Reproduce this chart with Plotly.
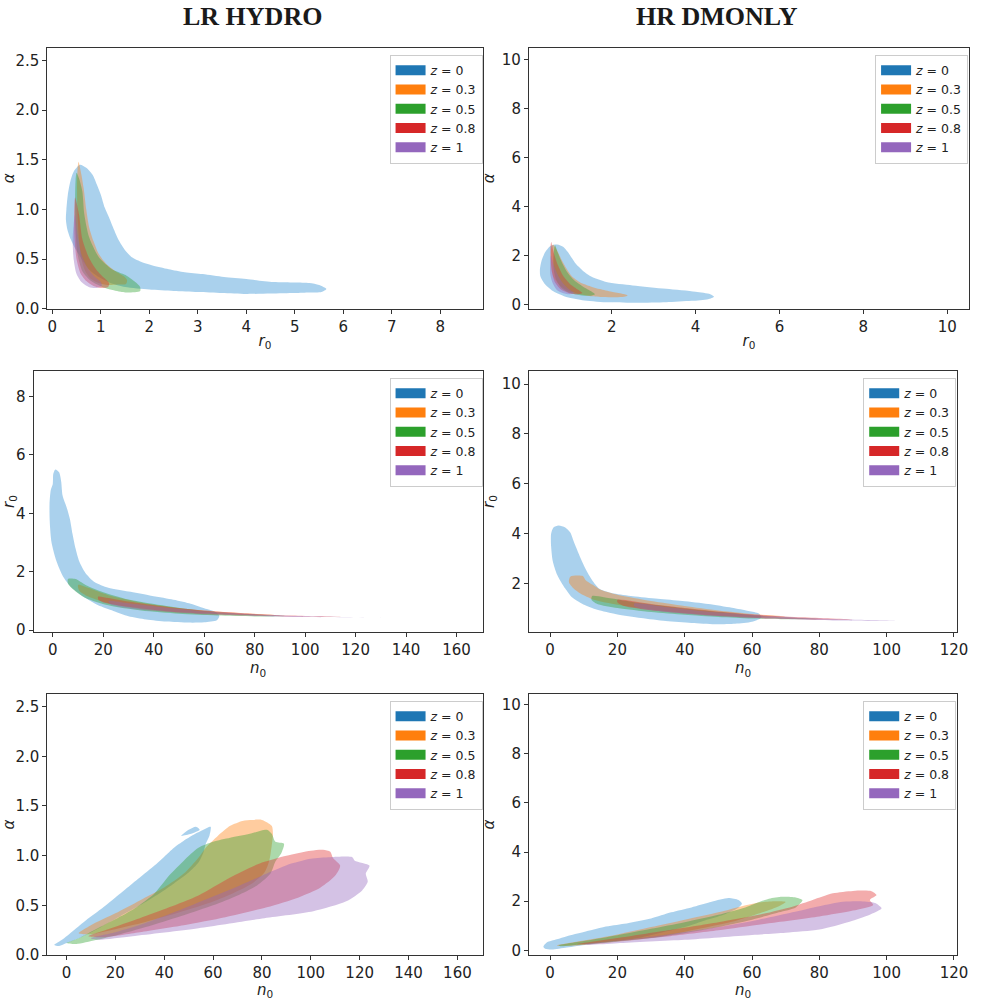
import plotly.graph_objects as go

# ---------------------------------------------------------------------------
# Redshift labels and colours
# ---------------------------------------------------------------------------
REDSHIFT_LABELS = ["<i>z</i> = 0", "<i>z</i> = 0.3", "<i>z</i> = 0.5",
                   "<i>z</i> = 0.8", "<i>z</i> = 1"]
COLORS = ["#1f77b4", "#ff7f0e", "#2ca02c", "#d62728", "#9467bd"]
# base colours of the translucent regions (slightly brighter than the legend swatches)
FILL_BASES = ["#2a8cd2", "#ff7f0e", "#2ca02c", "#e03030", "#9467bd"]
FILL_ALPHA = 0.4

COLUMN_TITLES = ["LR HYDRO", "HR DMONLY"]

# ---------------------------------------------------------------------------
# Credible-region outlines, one list of (x, y) vertices per redshift.
# ---------------------------------------------------------------------------
# LR HYDRO : alpha (y) against r0 (x)
lr_r0_alpha_z0 = [(0.57, 1.45), (0.70, 1.42), (0.83, 1.35), (0.92, 1.25), (1.0, 1.15),
                  (1.08, 1.02), (1.17, 0.92), (1.27, 0.80), (1.37, 0.69), (1.50, 0.59),
                  (1.64, 0.52), (1.85, 0.47), (2.05, 0.44), (2.4, 0.40), (2.73, 0.37),
                  (3.1, 0.35), (3.54, 0.32), (4.0, 0.30), (4.56, 0.27), (5.0, 0.265),
                  (5.3, 0.26), (5.5, 0.24), (5.65, 0.20), (5.55, 0.17), (5.3, 0.165),
                  (5.0, 0.16), (4.5, 0.155), (4.0, 0.15), (3.5, 0.16), (3.0, 0.17),
                  (2.5, 0.18), (2.0, 0.195), (1.5, 0.22), (1.2, 0.26), (0.96, 0.32),
                  (0.75, 0.40), (0.62, 0.49), (0.48, 0.60), (0.38, 0.70), (0.31, 0.80),
                  (0.28, 0.90), (0.29, 1.0), (0.32, 1.15), (0.37, 1.28), (0.44, 1.38),
                  (0.57, 1.45)]
lr_r0_alpha_z03 = [(0.54, 1.48), (0.60, 1.35), (0.65, 1.2), (0.70, 1.0), (0.76, 0.82),
                   (0.85, 0.68), (0.95, 0.56), (1.1, 0.46), (1.3, 0.38), (1.47, 0.33),
                   (1.54, 0.29), (1.52, 0.25), (1.35, 0.245), (1.15, 0.24), (0.95, 0.26),
                   (0.80, 0.30), (0.68, 0.38), (0.60, 0.50), (0.55, 0.70), (0.52, 0.95),
                   (0.51, 1.2), (0.52, 1.4), (0.54, 1.48)]
lr_r0_alpha_z05 = [(0.50, 1.37), (0.56, 1.30), (0.62, 1.18), (0.66, 0.95), (0.76, 0.72),
                   (0.96, 0.52), (1.23, 0.40), (1.51, 0.34), (1.71, 0.27), (1.81, 0.22),
                   (1.81, 0.18), (1.51, 0.165), (1.24, 0.19), (1.03, 0.22), (0.80, 0.28),
                   (0.62, 0.38), (0.52, 0.55), (0.48, 0.8), (0.47, 1.1), (0.48, 1.3),
                   (0.50, 1.37)]
lr_r0_alpha_z08 = [(0.47, 1.12), (0.55, 0.95), (0.62, 0.70), (0.75, 0.52), (0.90, 0.40),
                   (1.05, 0.32), (1.17, 0.26), (1.15, 0.22), (1.0, 0.21), (0.85, 0.23),
                   (0.70, 0.28), (0.58, 0.36), (0.50, 0.5), (0.46, 0.7), (0.45, 0.95),
                   (0.47, 1.12)]
lr_r0_alpha_z1 = [(0.47, 0.95), (0.52, 0.75), (0.60, 0.55), (0.72, 0.42), (0.88, 0.32),
                  (1.0, 0.27), (1.02, 0.23), (0.9, 0.21), (0.75, 0.22), (0.6, 0.27),
                  (0.5, 0.35), (0.44, 0.5), (0.42, 0.7), (0.44, 0.85), (0.47, 0.95)]

# HR DMONLY : alpha (y) against r0 (x)
hr_r0_alpha_z0 = [(0.70, 2.45), (0.85, 2.35), (0.95, 2.15), (1.05, 1.9), (1.15, 1.65),
                  (1.30, 1.40), (1.50, 1.15), (1.87, 0.92), (2.5, 0.78), (3.3, 0.64),
                  (4.0, 0.52), (4.35, 0.42), (4.44, 0.32), (4.3, 0.22), (3.9, 0.15),
                  (3.3, 0.09), (2.6, 0.07), (1.95, 0.09), (1.35, 0.17), (0.9, 0.32),
                  (0.6, 0.55), (0.4, 0.85), (0.30, 1.15), (0.29, 1.45), (0.33, 1.80),
                  (0.42, 2.15), (0.55, 2.40), (0.70, 2.45)]
hr_r0_alpha_z03 = [(0.60, 2.45), (0.70, 2.2), (0.80, 1.85), (0.93, 1.45), (1.05, 1.15),
                   (1.25, 0.90), (1.5, 0.74), (1.72, 0.63), (2.0, 0.52), (2.25, 0.44),
                   (2.38, 0.37), (2.30, 0.32), (2.1, 0.30), (1.8, 0.31), (1.5, 0.34),
                   (1.2, 0.44), (0.95, 0.58), (0.75, 0.80), (0.62, 1.1), (0.56, 1.5),
                   (0.55, 2.0), (0.56, 2.3), (0.60, 2.45)]
hr_r0_alpha_z05 = [(0.65, 2.42), (0.72, 2.1), (0.82, 1.7), (0.95, 1.3), (1.1, 1.0),
                   (1.3, 0.75), (1.5, 0.55), (1.6, 0.42), (1.5, 0.36), (1.25, 0.38),
                   (1.0, 0.48), (0.8, 0.68), (0.68, 1.0), (0.62, 1.4), (0.61, 1.9),
                   (0.65, 2.42)]
hr_r0_alpha_z08 = [(0.56, 2.55), (0.62, 2.1), (0.72, 1.6), (0.85, 1.15), (1.0, 0.85),
                   (1.2, 0.6), (1.3, 0.47), (1.2, 0.42), (1.0, 0.45), (0.8, 0.6),
                   (0.65, 0.9), (0.58, 1.3), (0.55, 1.8), (0.54, 2.3), (0.56, 2.55)]
hr_r0_alpha_z1 = [(0.55, 2.0), (0.62, 1.6), (0.72, 1.2), (0.85, 0.85), (1.0, 0.6),
                  (1.1, 0.48), (1.0, 0.42), (0.85, 0.46), (0.7, 0.58), (0.6, 0.85),
                  (0.54, 1.2), (0.53, 1.6), (0.55, 2.0)]

# LR HYDRO : r0 (y) against n0 (x)
lr_n0_r0_z0 = [(1.0, 5.5), (2.5, 5.4), (3.3, 5.1), (3.9, 4.6), (5.5, 4.2), (6.8, 3.8),
               (7.8, 3.3), (9.0, 2.8), (10.5, 2.35), (13.0, 1.95), (16.5, 1.65),
               (22, 1.45), (30, 1.32), (38, 1.2), (47, 1.06), (54, 0.92), (60, 0.75),
               (64.5, 0.62), (66, 0.49), (65, 0.34), (60, 0.27), (54, 0.26), (45, 0.30),
               (37, 0.37), (30, 0.48), (24, 0.66), (18, 0.85), (12, 1.15), (7.5, 1.45),
               (4, 1.85), (1.5, 2.35), (-0.5, 3.0), (-1.2, 3.7), (-1.3, 4.3),
               (-0.8, 4.8), (0, 5.0), (0.2, 5.35), (1.0, 5.5)]
lr_n0_r0_z03 = [(10, 1.55), (14, 1.45), (22, 1.2), (35, 0.95), (50, 0.76), (65, 0.64),
                (78, 0.57), (88, 0.52), (80, 0.5), (65, 0.53), (50, 0.6), (35, 0.72),
                (22, 0.92), (14, 1.15), (10.5, 1.35), (10, 1.55)]
lr_n0_r0_z05 = [(6, 1.75), (9, 1.75), (13, 1.55), (20, 1.3), (30, 1.05), (45, 0.83),
                (60, 0.66), (75, 0.56), (92, 0.49), (80, 0.47), (65, 0.5), (50, 0.56),
                (35, 0.67), (22, 0.85), (13, 1.1), (8, 1.4), (6, 1.6), (6, 1.75)]
lr_n0_r0_z08 = [(18, 1.15), (22, 1.1), (30, 0.98), (45, 0.8), (60, 0.67), (75, 0.58),
                (95, 0.5), (115, 0.45), (95, 0.47), (75, 0.52), (60, 0.57), (45, 0.65),
                (30, 0.8), (20, 0.95), (18, 1.05), (18, 1.15)]
lr_n0_r0_z1 = [(22, 1.0), (30, 0.92), (45, 0.77), (60, 0.65), (80, 0.55), (100, 0.48),
               (131, 0.43), (100, 0.45), (80, 0.49), (60, 0.55), (45, 0.63), (30, 0.75),
               (23, 0.88), (22, 1.0)]

# HR DMONLY : r0 (y) against n0 (x)
hr_n0_r0_z0 = [(2.5, 4.33), (4.5, 4.25), (6.0, 4.05), (7.0, 3.7), (7.9, 3.4), (9.3, 2.95),
               (10.9, 2.5), (12.7, 2.1), (14.8, 1.78), (19, 1.6), (24.6, 1.49), (32, 1.39),
               (39.3, 1.30), (47, 1.18), (54, 1.03), (59, 0.9), (62, 0.8), (62.8, 0.64),
               (60, 0.47), (55, 0.39), (49, 0.37), (42, 0.42), (34.4, 0.50), (27, 0.62),
               (19.7, 0.77), (14, 0.95), (9.9, 1.16), (6.5, 1.45), (4.5, 1.80),
               (2.1, 2.36), (0.8, 2.9), (0.3, 3.5), (0.3, 4.0), (1.0, 4.25), (2.5, 4.33)]
hr_n0_r0_z03 = [(6, 2.28), (9.8, 2.3), (10.5, 2.15), (12.7, 1.95), (15, 1.75), (20, 1.55),
                (30, 1.3), (40, 1.1), (50, 0.92), (60, 0.78), (70, 0.68), (62, 0.65),
                (50, 0.72), (40, 0.82), (30, 0.96), (20, 1.15), (13, 1.35), (9, 1.6),
                (7, 1.8), (5.6, 2.05), (6, 2.28)]
hr_n0_r0_z05 = [(12.5, 1.5), (16, 1.45), (25, 1.25), (35, 1.08), (45, 0.93), (55, 0.8),
                (65, 0.68), (80, 0.58), (70, 0.57), (60, 0.6), (50, 0.66), (40, 0.75),
                (30, 0.86), (20, 1.02), (14, 1.18), (12.3, 1.35), (12.5, 1.5)]
hr_n0_r0_z08 = [(20, 1.35), (30, 1.18), (40, 1.02), (50, 0.88), (60, 0.76), (75, 0.65),
                (90, 0.56), (80, 0.55), (65, 0.6), (50, 0.7), (40, 0.8), (30, 0.93),
                (22, 1.1), (20, 1.25), (20, 1.35)]
hr_n0_r0_z1 = [(25, 1.2), (35, 1.05), (45, 0.9), (60, 0.75), (80, 0.6), (103, 0.5),
               (85, 0.52), (65, 0.6), (50, 0.7), (38, 0.82), (28, 0.98), (25, 1.1),
               (25, 1.2)]

# LR HYDRO : alpha (y) against n0 (x); None separates a detached island
lr_n0_alpha_z0 = [(-5, 0.10), (-2, 0.15), (3, 0.25), (8, 0.35), (14, 0.46), (20, 0.58),
                  (26, 0.70), (31, 0.80), (36, 0.90), (40, 0.99), (44, 1.08), (48, 1.15),
                  (52, 1.21), (56, 1.26), (59, 1.29), (58.5, 1.2), (57, 1.12), (56, 1.03),
                  (54, 0.93), (50, 0.83), (44, 0.72), (38, 0.62), (30, 0.50), (22, 0.39),
                  (14, 0.28), (6, 0.18), (0, 0.12), (-3, 0.09), (-5, 0.10),
                  None,
                  (47, 1.20), (50, 1.26), (53, 1.29), (54.5, 1.26), (51, 1.22), (47, 1.20)]
lr_n0_alpha_z03 = [(5, 0.22), (10, 0.30), (20, 0.42), (30, 0.55), (40, 0.68), (48, 0.82),
                   (54, 0.98), (57, 1.08), (62, 1.20), (67, 1.30), (72, 1.35), (76, 1.36),
                   (80, 1.36), (84, 1.30), (84.5, 1.22), (84, 1.10), (83, 0.95), (81, 0.83),
                   (76, 0.72), (68, 0.62), (58, 0.52), (45, 0.42), (32, 0.33), (20, 0.26),
                   (10, 0.21), (5, 0.22)]
lr_n0_alpha_z05 = [(0, 0.12), (5, 0.17), (12, 0.26), (20, 0.36), (28, 0.47), (36, 0.62),
                   (42, 0.80), (48, 0.95), (54, 1.08), (60, 1.14), (67, 1.18), (75, 1.22),
                   (82, 1.26), (84, 1.22), (85.5, 1.14), (89, 1.12), (88, 1.03),
                   (85.5, 0.94), (83.5, 0.82), (78, 0.70), (70, 0.60), (60, 0.50),
                   (48, 0.40), (35, 0.30), (22, 0.21), (12, 0.15), (4, 0.11), (0, 0.12)]
lr_n0_alpha_z08 = [(9, 0.19), (17, 0.26), (30, 0.37), (42, 0.48), (54, 0.60), (67, 0.78),
                   (80, 0.93), (90, 1.0), (100, 1.05), (105, 1.06), (108, 1.04),
                   (109, 0.98), (112, 0.90), (110, 0.80), (104, 0.68), (95, 0.58),
                   (82, 0.48), (65, 0.38), (48, 0.30), (30, 0.23), (15, 0.18), (9, 0.19)]
lr_n0_alpha_z1 = [(10, 0.17), (20, 0.23), (32, 0.32), (45, 0.44), (58, 0.57), (70, 0.69),
                  (82, 0.82), (92, 0.92), (100, 0.97), (108, 0.985), (117, 0.985),
                  (118, 0.95), (124, 0.90), (122.5, 0.82), (123.3, 0.74), (121, 0.65),
                  (114.5, 0.54), (101, 0.44), (81, 0.37), (54, 0.27), (27, 0.19),
                  (13, 0.155), (10, 0.17)]

# HR DMONLY : alpha (y) against n0 (x)
hr_n0_alpha_z0 = [(-2, 0.15), (-1, 0.32), (2, 0.45), (5, 0.58), (10, 0.75), (16, 0.95),
                  (22, 1.08), (30, 1.30), (36, 1.55), (42, 1.75), (48, 1.98), (53, 2.13),
                  (56, 2.05), (57, 1.90), (56, 1.75), (51.5, 1.45), (46, 1.22),
                  (40.8, 0.98), (33, 0.72), (26, 0.50), (18, 0.35), (11, 0.23), (5, 0.12),
                  (0.5, 0.04), (-1.5, 0.07), (-2, 0.15)]
hr_n0_alpha_z03 = [(2, 0.2), (10, 0.4), (20, 0.65), (30, 0.95), (40, 1.25), (50, 1.55),
                   (57, 1.80), (62, 1.95), (67, 2.0), (70, 1.97), (68, 1.8), (62, 1.5),
                   (55, 1.2), (45, 0.9), (35, 0.62), (25, 0.42), (15, 0.28), (6, 0.19),
                   (2, 0.2)]
hr_n0_alpha_z05 = [(2.5, 0.2), (10, 0.38), (20, 0.62), (30, 0.88), (40, 1.15), (50, 1.45),
                   (58, 1.75), (65, 2.1), (69, 2.18), (73, 2.15), (75, 2.04), (73, 1.75),
                   (68, 1.55), (60, 1.25), (50, 0.95), (40, 0.70), (30, 0.50), (20, 0.36),
                   (10, 0.25), (3, 0.17), (2.5, 0.2)]
hr_n0_alpha_z08 = [(8, 0.25), (20, 0.5), (35, 0.82), (50, 1.15), (62, 1.45), (72, 1.78),
                   (78, 2.05), (84, 2.32), (90, 2.42), (95.5, 2.41), (97, 2.25), (95, 2.05),
                   (96, 1.85), (90, 1.62), (80, 1.38), (65, 1.1), (50, 0.82), (35, 0.57),
                   (20, 0.38), (10, 0.25), (8, 0.25)]
hr_n0_alpha_z1 = [(10, 0.25), (20, 0.4), (35, 0.65), (50, 0.95), (62, 1.25), (72, 1.55),
                  (80, 1.8), (87, 1.98), (92, 2.0), (96, 1.95), (97, 1.9), (98.5, 1.71),
                  (95, 1.45), (89, 1.17), (80, 0.85), (70, 0.72), (60, 0.63), (40, 0.43),
                  (20, 0.29), (12, 0.23), (10, 0.25)]

# Tick values per panel
lr_r0_ticks = [0, 1, 2, 3, 4, 5, 6, 7, 8]
hr_r0_ticks = [2, 4, 6, 8, 10]
lr_alpha_ticks = [0.0, 0.5, 1.0, 1.5, 2.0, 2.5]
hr_alpha_ticks = [0, 2, 4, 6, 8, 10]
lr_n0_ticks = [0, 20, 40, 60, 80, 100, 120, 140, 160]
hr_n0_ticks = [0, 20, 40, 60, 80, 100, 120]
lr_r0y_ticks = [0, 2, 4, 6, 8]
hr_r0y_ticks = [2, 4, 6, 8, 10]

# ---------------------------------------------------------------------------
# Figure geometry (pixels of a 986 x 1000 canvas)
# ---------------------------------------------------------------------------
W, H = 986, 1000

R0_LABEL = "<i>r</i><sub>0</sub>"
N0_LABEL = "<i>n</i><sub>0</sub>"
ALPHA_LABEL = "<i>α</i>"

panels = [
    dict(shapes=[lr_r0_alpha_z0, lr_r0_alpha_z03, lr_r0_alpha_z05, lr_r0_alpha_z08, lr_r0_alpha_z1],
         box=(48, 488, 48, 312), xrange=(-0.1, 8.87), yrange=(-0.003, 2.63),
         xticks=lr_r0_ticks, yticks=lr_alpha_ticks, yfmt=".1f",
         xtitle=R0_LABEL, ytitle=ALPHA_LABEL, legend=(488, 55)),
    dict(shapes=[hr_r0_alpha_z0, hr_r0_alpha_z03, hr_r0_alpha_z05, hr_r0_alpha_z08, hr_r0_alpha_z1],
         box=(535, 980, 48, 312), xrange=(0.03, 10.52), yrange=(-0.19, 10.49),
         xticks=hr_r0_ticks, yticks=hr_alpha_ticks, yfmt="d",
         xtitle=R0_LABEL, ytitle=ALPHA_LABEL, legend=(979, 55)),
    dict(shapes=[lr_n0_r0_z0, lr_n0_r0_z03, lr_n0_r0_z05, lr_n0_r0_z08, lr_n0_r0_z1],
         box=(34, 488, 374, 638), xrange=(-7.6, 170.3), yrange=(-0.07, 8.88),
         xticks=lr_n0_ticks, yticks=lr_r0y_ticks, yfmt="d",
         xtitle=N0_LABEL, ytitle=R0_LABEL, legend=(488, 381)),
    dict(shapes=[hr_n0_r0_z0, hr_n0_r0_z03, hr_n0_r0_z05, hr_n0_r0_z08, hr_n0_r0_z1],
         box=(535, 968, 374, 638), xrange=(-6.26, 120.97), yrange=(0.05, 10.54),
         xticks=hr_n0_ticks, yticks=hr_r0y_ticks, yfmt="d",
         xtitle=N0_LABEL, ytitle=R0_LABEL, legend=(967, 381)),
    dict(shapes=[lr_n0_alpha_z0, lr_n0_alpha_z03, lr_n0_alpha_z05, lr_n0_alpha_z08, lr_n0_alpha_z1],
         box=(48, 488, 700, 964), xrange=(-7.8, 170.3), yrange=(-0.003, 2.63),
         xticks=lr_n0_ticks, yticks=lr_alpha_ticks, yfmt=".1f",
         xtitle=N0_LABEL, ytitle=ALPHA_LABEL, legend=(488, 707)),
    dict(shapes=[hr_n0_alpha_z0, hr_n0_alpha_z03, hr_n0_alpha_z05, hr_n0_alpha_z08, hr_n0_alpha_z1],
         box=(535, 968, 700, 964), xrange=(-6.26, 120.97), yrange=(-0.2, 10.44),
         xticks=hr_n0_ticks, yticks=hr_alpha_ticks, yfmt="d",
         xtitle=N0_LABEL, ytitle=ALPHA_LABEL, legend=(967, 707)),
]

TEXT_COLOR = "#222222"
FRAME_COLOR = "#333333"
FONT = "DejaVu Sans"


def rgba(hex_color, alpha):
    h = hex_color.lstrip("#")
    r, g, b = int(h[0:2], 16), int(h[2:4], 16), int(h[4:6], 16)
    return f"rgba({r},{g},{b},{alpha})"


def split_xy(points):
    xs, ys = [], []
    for p in points:
        if p is None:
            xs.append(None)
            ys.append(None)
        else:
            xs.append(p[0])
            ys.append(p[1])
    return xs, ys


fig = go.Figure()
layout = {}

for i, panel in enumerate(panels, start=1):
    suffix = "" if i == 1 else str(i)
    xa, ya = f"x{suffix}", f"y{suffix}"
    legend_name = "legend" if i == 1 else f"legend{i}"

    # filled regions, lowest redshift drawn first
    for k, pts in enumerate(panel["shapes"]):
        xs, ys = split_xy(pts)
        fig.add_trace(go.Scatter(
            x=xs, y=ys, xaxis=xa, yaxis=ya,
            mode="lines", fill="toself",
            fillcolor=rgba(FILL_BASES[k], FILL_ALPHA),
            line=dict(width=0, shape="spline", smoothing=0.7),
            hoverinfo="skip", showlegend=False,
            legendgroup=f"z{k}",
        ))
    # opaque legend swatches
    for k in range(5):
        fig.add_trace(go.Scatter(
            x=[None], y=[None], xaxis=xa, yaxis=ya, mode="lines",
            line=dict(color=COLORS[k], width=10),
            name=REDSHIFT_LABELS[k], legend=legend_name, legendgroup=f"z{k}",
        ))

    x0, x1, y0, y1 = panel["box"]
    axis_common = dict(
        showgrid=False, zeroline=False, showline=True, mirror=True,
        linecolor=FRAME_COLOR, linewidth=1.2,
        ticks="outside", ticklen=4, tickwidth=1, tickcolor=FRAME_COLOR,
        tickfont=dict(family=FONT, size=15, color=TEXT_COLOR),
    )
    layout[f"xaxis{suffix}"] = dict(
        axis_common, domain=[x0 / W, x1 / W], range=list(panel["xrange"]),
        anchor=ya, tickmode="array", tickvals=panel["xticks"],
        title=dict(text=panel["xtitle"], standoff=0,
                   font=dict(family=FONT, size=15, color=TEXT_COLOR)),
    )
    layout[f"yaxis{suffix}"] = dict(
        axis_common, domain=[1 - y1 / H, 1 - y0 / H], range=list(panel["yrange"]),
        anchor=xa, tickmode="array", tickvals=panel["yticks"],
        tickformat=panel["yfmt"],
        title=dict(text=panel["ytitle"], standoff=3,
                   font=dict(family=FONT, size=15, color=TEXT_COLOR)),
    )
    lx, ly = panel["legend"]
    layout[legend_name] = dict(
        x=lx / W, y=1 - ly / H, xanchor="right", yanchor="top",
        xref="paper", yref="paper",
        bgcolor="rgba(255,255,255,0.8)", bordercolor="#cccccc", borderwidth=1,
        font=dict(family=FONT, size=12.5, color=TEXT_COLOR),
        itemwidth=30, tracegroupgap=0, traceorder="normal",
    )

annotations = []
for title, cx in zip(COLUMN_TITLES, [255, 725]):
    annotations.append(dict(
        text=f"<b>{title}</b>", x=cx / W, y=1 - 17 / H, xref="paper", yref="paper",
        xanchor="center", yanchor="middle", showarrow=False,
        font=dict(family="Liberation Serif", size=26, color="#1a1a1a"),
    ))

fig.update_layout(
    width=W, height=H, margin=dict(l=0, r=0, t=0, b=0),
    paper_bgcolor="white", plot_bgcolor="white",
    annotations=annotations, **layout,
)

fig.write_html("out.html")
